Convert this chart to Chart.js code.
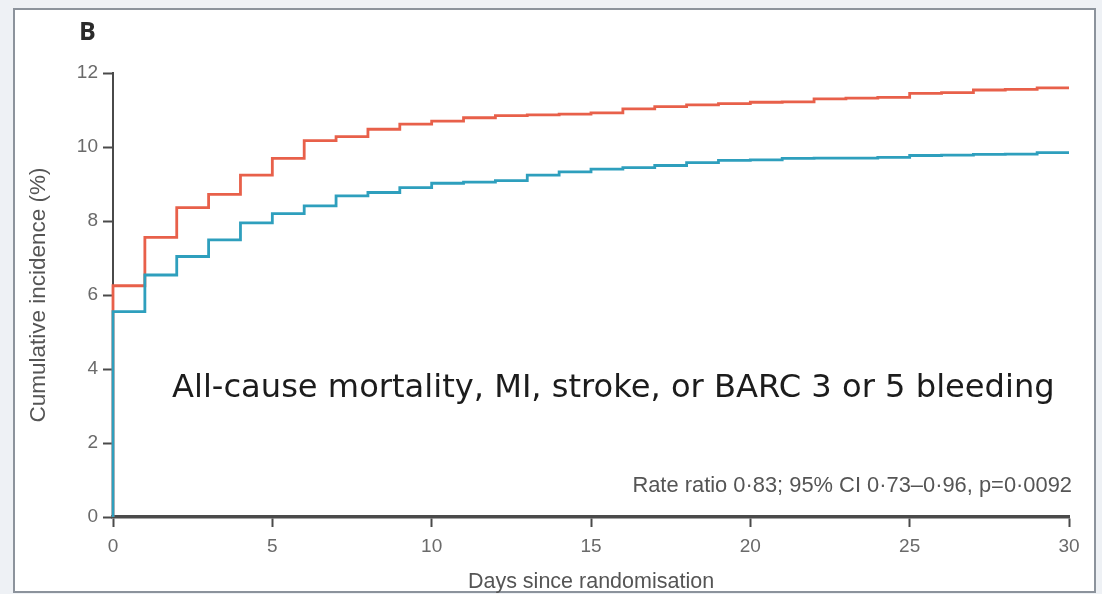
<!DOCTYPE html>
<html>
<head>
<meta charset="utf-8">
<script src="https://cdn.jsdelivr.net/npm/chart.js@4.4.1/dist/chart.umd.min.js"></script>
<style>
  html, body { margin: 0; padding: 0; background: #eef1f5; }
  #wrap { width: 1102px; height: 594px; }
</style>
</head>
<body>
<div id="wrap"><canvas id="km" width="1102" height="594"></canvas></div>
<script>
// Days since randomisation at which each cumulative estimate starts (step changes at these days)
const days = [0, 0, 1, 2, 3, 4, 5, 6, 7, 8, 9, 10, 11, 12, 13, 14, 15, 16, 17, 18, 19, 20,
              21, 22, 23, 24, 25, 26, 27, 28, 29, 30];

// Cumulative incidence (%), comparator arm
const redArm = [0, 6.25, 7.56, 8.36, 8.72, 9.24, 9.69, 10.17, 10.28, 10.48, 10.62, 10.70,
                10.79, 10.85, 10.87, 10.89, 10.92, 11.03, 11.09, 11.14, 11.17, 11.21,
                11.22, 11.30, 11.32, 11.34, 11.45, 11.47, 11.54, 11.56, 11.60, 11.60];

// Cumulative incidence (%), experimental arm
const blueArm = [0, 5.55, 6.54, 7.04, 7.49, 7.95, 8.20, 8.41, 8.68, 8.77, 8.90, 9.02,
                 9.05, 9.09, 9.24, 9.33, 9.40, 9.44, 9.50, 9.58, 9.64, 9.65,
                 9.69, 9.70, 9.70, 9.72, 9.77, 9.78, 9.80, 9.81, 9.85, 9.85];

const xTicks = [0, 5, 10, 15, 20, 25, 30];
const yTicks = [0, 2, 4, 6, 8, 10, 12];

const panelLabel = 'B';
const endpointLabel = 'All-cause mortality, MI, stroke, or BARC 3 or 5 bleeding';
const statsLabel = 'Rate ratio 0·83; 95% CI 0·73–0·96, p=0·0092';

const plain = "'Liberation Sans', Arial, sans-serif";
const axisGrey = '#4a4a4a';
const labelGrey = '#6a6a6a';

const toPoints = (vals) => vals.map((v, i) => ({ x: days[i], y: v }));

// Panel background with a framed white card
const framePlugin = {
  id: 'frame',
  beforeDraw(chart) {
    const c = chart.ctx;
    c.save();
    c.fillStyle = '#eef1f5';
    c.fillRect(0, 0, chart.width, chart.height);
    c.fillStyle = '#ffffff';
    c.fillRect(14, 9, 1081, 583);
    c.strokeStyle = '#8c939c';
    c.lineWidth = 2;
    c.strokeRect(14, 9, 1081, 583);
    c.restore();
  }
};

// Font size that makes a string span the given width
function fitFont(c, text, family, weight, baseSize, width) {
  c.font = weight + ' ' + baseSize + 'px ' + family;
  const w = c.measureText(text).width;
  const size = baseSize * width / w;
  return weight + ' ' + size.toFixed(2) + 'px ' + family;
}

// Panel letter, endpoint caption and rate-ratio statistics
const notesPlugin = {
  id: 'notes',
  afterDraw(chart) {
    const c = chart.ctx;
    const area = chart.chartArea;
    c.save();
    c.fillStyle = '#2b2b2b';
    c.font = "bold 25px 'Open Sans', sans-serif";
    c.textAlign = 'left';
    c.textBaseline = 'middle';
    c.fillText(panelLabel, 79, 33);

    c.fillStyle = '#1c1c1c';
    c.font = fitFont(c, endpointLabel, "'DejaVu Sans', sans-serif", 'normal', 30, 883);
    c.fillText(endpointLabel, area.left + 59, 389);

    c.fillStyle = '#555555';
    c.font = fitFont(c, statsLabel, plain, 'normal', 18, 440);
    c.textAlign = 'right';
    c.fillText(statsLabel, area.right + 3, 486);
    c.restore();
  }
};

new Chart(document.getElementById('km'), {
  type: 'line',
  data: {
    datasets: [
      {
        label: 'Experimental',
        data: toPoints(blueArm),
        borderColor: '#2e9fbd',
        borderWidth: 2.8,
        stepped: 'before',
        pointRadius: 0,
        fill: false,
        clip: 3
      },
      {
        label: 'Comparator',
        data: toPoints(redArm),
        borderColor: '#e8604a',
        borderWidth: 2.8,
        stepped: 'before',
        pointRadius: 0,
        fill: false,
        clip: 3
      }
    ]
  },
  options: {
    responsive: false,
    animation: false,
    events: [],
    layout: { padding: { left: 0, right: 33, top: 73, bottom: 0 } },
    plugins: { legend: { display: false }, tooltip: { enabled: false } },
    scales: {
      x: {
        type: 'linear',
        min: 0,
        max: 30,
        afterFit(scale) { scale.height = 77; },
        afterBuildTicks(scale) { scale.ticks = xTicks.map(v => ({ value: v })); },
        border: { display: true, color: axisGrey, width: 3.5 },
        grid: { drawOnChartArea: false, drawTicks: true, tickLength: 10, tickColor: axisGrey, tickWidth: 2 },
        ticks: { color: labelGrey, font: { family: plain, size: 19 }, padding: 8, maxRotation: 0 },
        title: {
          display: true,
          text: 'Days since randomisation',
          color: '#555555',
          font: { family: plain, size: 21.5 },
          padding: { top: 0, bottom: -1 }
        }
      },
      y: {
        type: 'linear',
        min: 0,
        max: 12,
        afterFit(scale) { scale.width = 113; },
        afterBuildTicks(scale) { scale.ticks = yTicks.map(v => ({ value: v })); },
        border: { display: true, color: axisGrey, width: 2 },
        grid: { drawOnChartArea: false, drawTicks: true, tickLength: 10, tickColor: axisGrey, tickWidth: 2 },
        ticks: { color: labelGrey, font: { family: plain, size: 19 }, padding: 5 },
        title: {
          display: true,
          text: 'Cumulative incidence (%)',
          color: '#555555',
          font: { family: plain, size: 22.5 },
          padding: { top: 25, bottom: 0 }
        }
      }
    }
  },
  plugins: [framePlugin, notesPlugin]
});
</script>
</body>
</html>
